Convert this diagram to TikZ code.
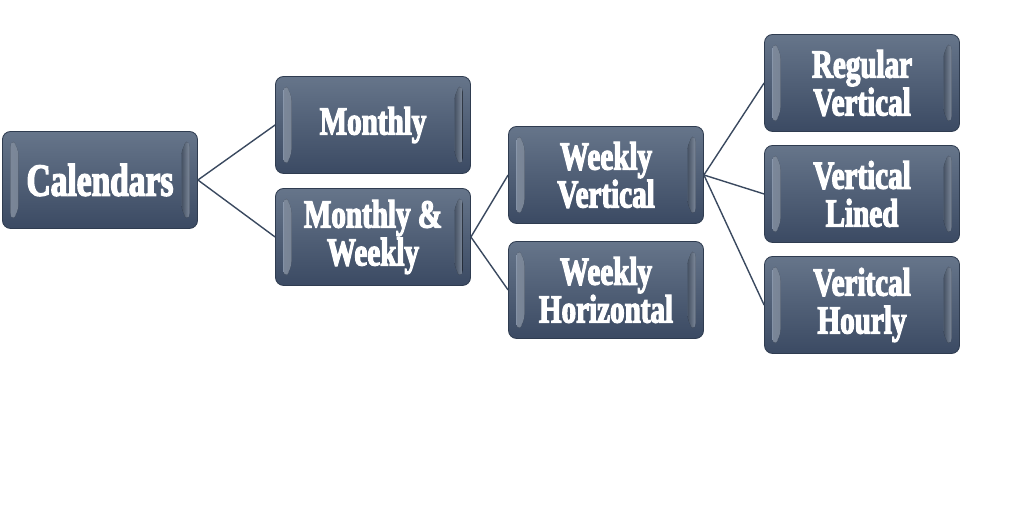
\documentclass[tikz,border=0pt]{standalone}
\usepackage{fontspec}
\usepackage{tikz}
\usetikzlibrary{positioning}

\newfontfamily\boxfont[FakeStretch=0.73,FakeBold=3]{Liberation Serif}

\definecolor{boxtop}{HTML}{66758A}
\definecolor{boxbot}{HTML}{3B4A63}
\definecolor{boxline}{HTML}{2F3C50}
\definecolor{bevhi}{HTML}{A9B8CE}
\definecolor{linkcol}{HTML}{3A495F}

\tikzset{
  calbox/.style={draw=boxline, line width=0.8bp, rounded corners=8bp,
    top color=boxtop, bottom color=boxbot, text=white,
    minimum width=195bp, minimum height=97bp, inner sep=0pt,
    align=center, font=\boxfont\bfseries\fontsize{40}{38}\selectfont,
    path picture={
      \fill[left color=bevhi, right color=boxtop!70!boxbot, opacity=.7]
        ([shift={(8bp,-7bp)}]path picture bounding box.north west)
        -- ([shift={(16bp,-16bp)}]path picture bounding box.north west)
        -- ([shift={(16bp,16bp)}]path picture bounding box.south west)
        -- ([shift={(8bp,7bp)}]path picture bounding box.south west) -- cycle;
      \fill[right color=bevhi, left color=boxtop!70!boxbot, opacity=.7]
        ([shift={(-8bp,-7bp)}]path picture bounding box.north east)
        -- ([shift={(-16bp,-16bp)}]path picture bounding box.north east)
        -- ([shift={(-16bp,16bp)}]path picture bounding box.south east)
        -- ([shift={(-8bp,7bp)}]path picture bounding box.south east) -- cycle;
    }},
  link/.style={draw=linkcol, line width=1.4bp}
}

\begin{document}
\begin{tikzpicture}[x=1bp, y=1bp, on grid]
    \useasboundingbox (0,0) rectangle (1018,531);

    \node (cal) [calbox, font=\boxfont\bfseries\fontsize{46}{46}\selectfont] at (100,351) {Calendars};
    \node (mon) [calbox, above right=55bp and 273bp of cal] {Monthly};
    \node (mw)  [calbox, below=112bp of mon] {Monthly \&\\Weekly};
    \node (wv)  [calbox, above right=62bp and 233bp of mw] {Weekly\\Vertical};
    \node (wh)  [calbox, below=115bp of wv] {Weekly\\Horizontal};
    \node (rv)  [calbox, above right=92bp and 256bp of wv] {Regular\\Vertical};
    \node (vl)  [calbox, below=111bp of rv] {Vertical\\Lined};
    \node (vh)  [calbox, below=111bp of vl] {Veritcal\\Hourly};

    \path[link]
        (cal.east) edge (mon.west)
        (cal.east) edge (mw.west)
        (mw.east)  edge (wv.west)
        (mw.east)  edge (wh.west)
        (wv.east)  edge (rv.west)
        (wv.east)  edge (vl.west)
        (wv.east)  edge (vh.west);

\end{tikzpicture}
\end{document}
